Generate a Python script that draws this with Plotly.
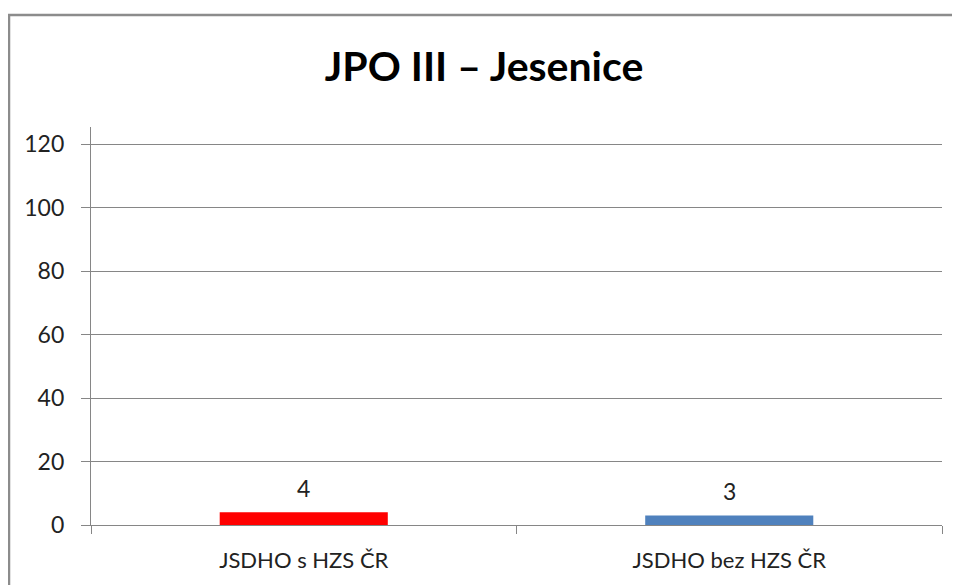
import plotly.graph_objects as go

categories = ["JSDHO s HZS ČR", "JSDHO bez HZS ČR"]
values = [4, 3]
bar_colors = ["#FF0000", "#4F81BD"]
y_ticks = [0, 20, 40, 60, 80, 100, 120]
title_text = "<b>JPO III – Jesenice</b>"

FONT = "Lato, Calibri, Carlito, sans-serif"

# the page is shown with an 8px body margin; compensate so marks land where the reference has them
OFF = 8
W, H = 960, 585

def sx(p):
    return p - OFF

def sy(p):
    return p - OFF

ml = sx(91)
mt = sy(127)
mr = W - sx(942)
mb = H - sy(525)
pw, ph = W - ml - mr, H - mt - mb

def px_x(p):
    return (sx(p) - ml) / pw

def px_y(p):
    return (H - mb - sy(p)) / ph

fig = go.Figure()
fig.add_trace(go.Bar(
    x=categories, y=values,
    marker=dict(color=bar_colors, line=dict(width=0)),
    hoverinfo="x+y",
))

for c, v in zip(categories, values):
    fig.add_annotation(x=c, y=v, text=str(v), showarrow=False,
                       yanchor="bottom", yshift=8,
                       font=dict(family=FONT, size=23, color="#222222"))

fig.add_shape(type="rect", xref="paper", yref="paper",
              x0=px_x(9), x1=px_x(985), y0=px_y(610), y1=px_y(15),
              line=dict(color="#8C8C8C", width=2.5), fillcolor="rgba(0,0,0,0)",
              layer="above")

fig.update_layout(
    width=W, height=H,
    margin=dict(l=ml, r=mr, t=mt, b=mb),
    paper_bgcolor="white", plot_bgcolor="white",
    bargap=0.605,
    showlegend=False,
    font=dict(family=FONT, size=22, color="#222222"),
    title=dict(text=title_text, x=(sx(484)) / W, xanchor="center",
               y=1 - sy(67) / H, yanchor="middle",
               font=dict(family=FONT, size=41, color="#000000")),
    xaxis=dict(
        showline=True, linecolor="#868686", linewidth=1.3,
        ticks="outside", ticklen=8, tickcolor="#868686", tickwidth=1.3,
        tickson="boundaries", showgrid=False,
        tickfont=dict(family=FONT, size=22, color="#222222"),
        ticklabelstandoff=15,
    ),
    yaxis=dict(
        range=[0, 125.4], tickvals=y_ticks,
        showline=True, linecolor="#868686", linewidth=1.3,
        ticks="outside", ticklen=9, tickcolor="#868686", tickwidth=1.3,
        showgrid=True, gridcolor="#868686", gridwidth=1.1,
        zeroline=False,
        tickfont=dict(family=FONT, size=23, color="#222222"),
        ticklabelstandoff=12,
    ),
)

fig.write_html("out.html")
